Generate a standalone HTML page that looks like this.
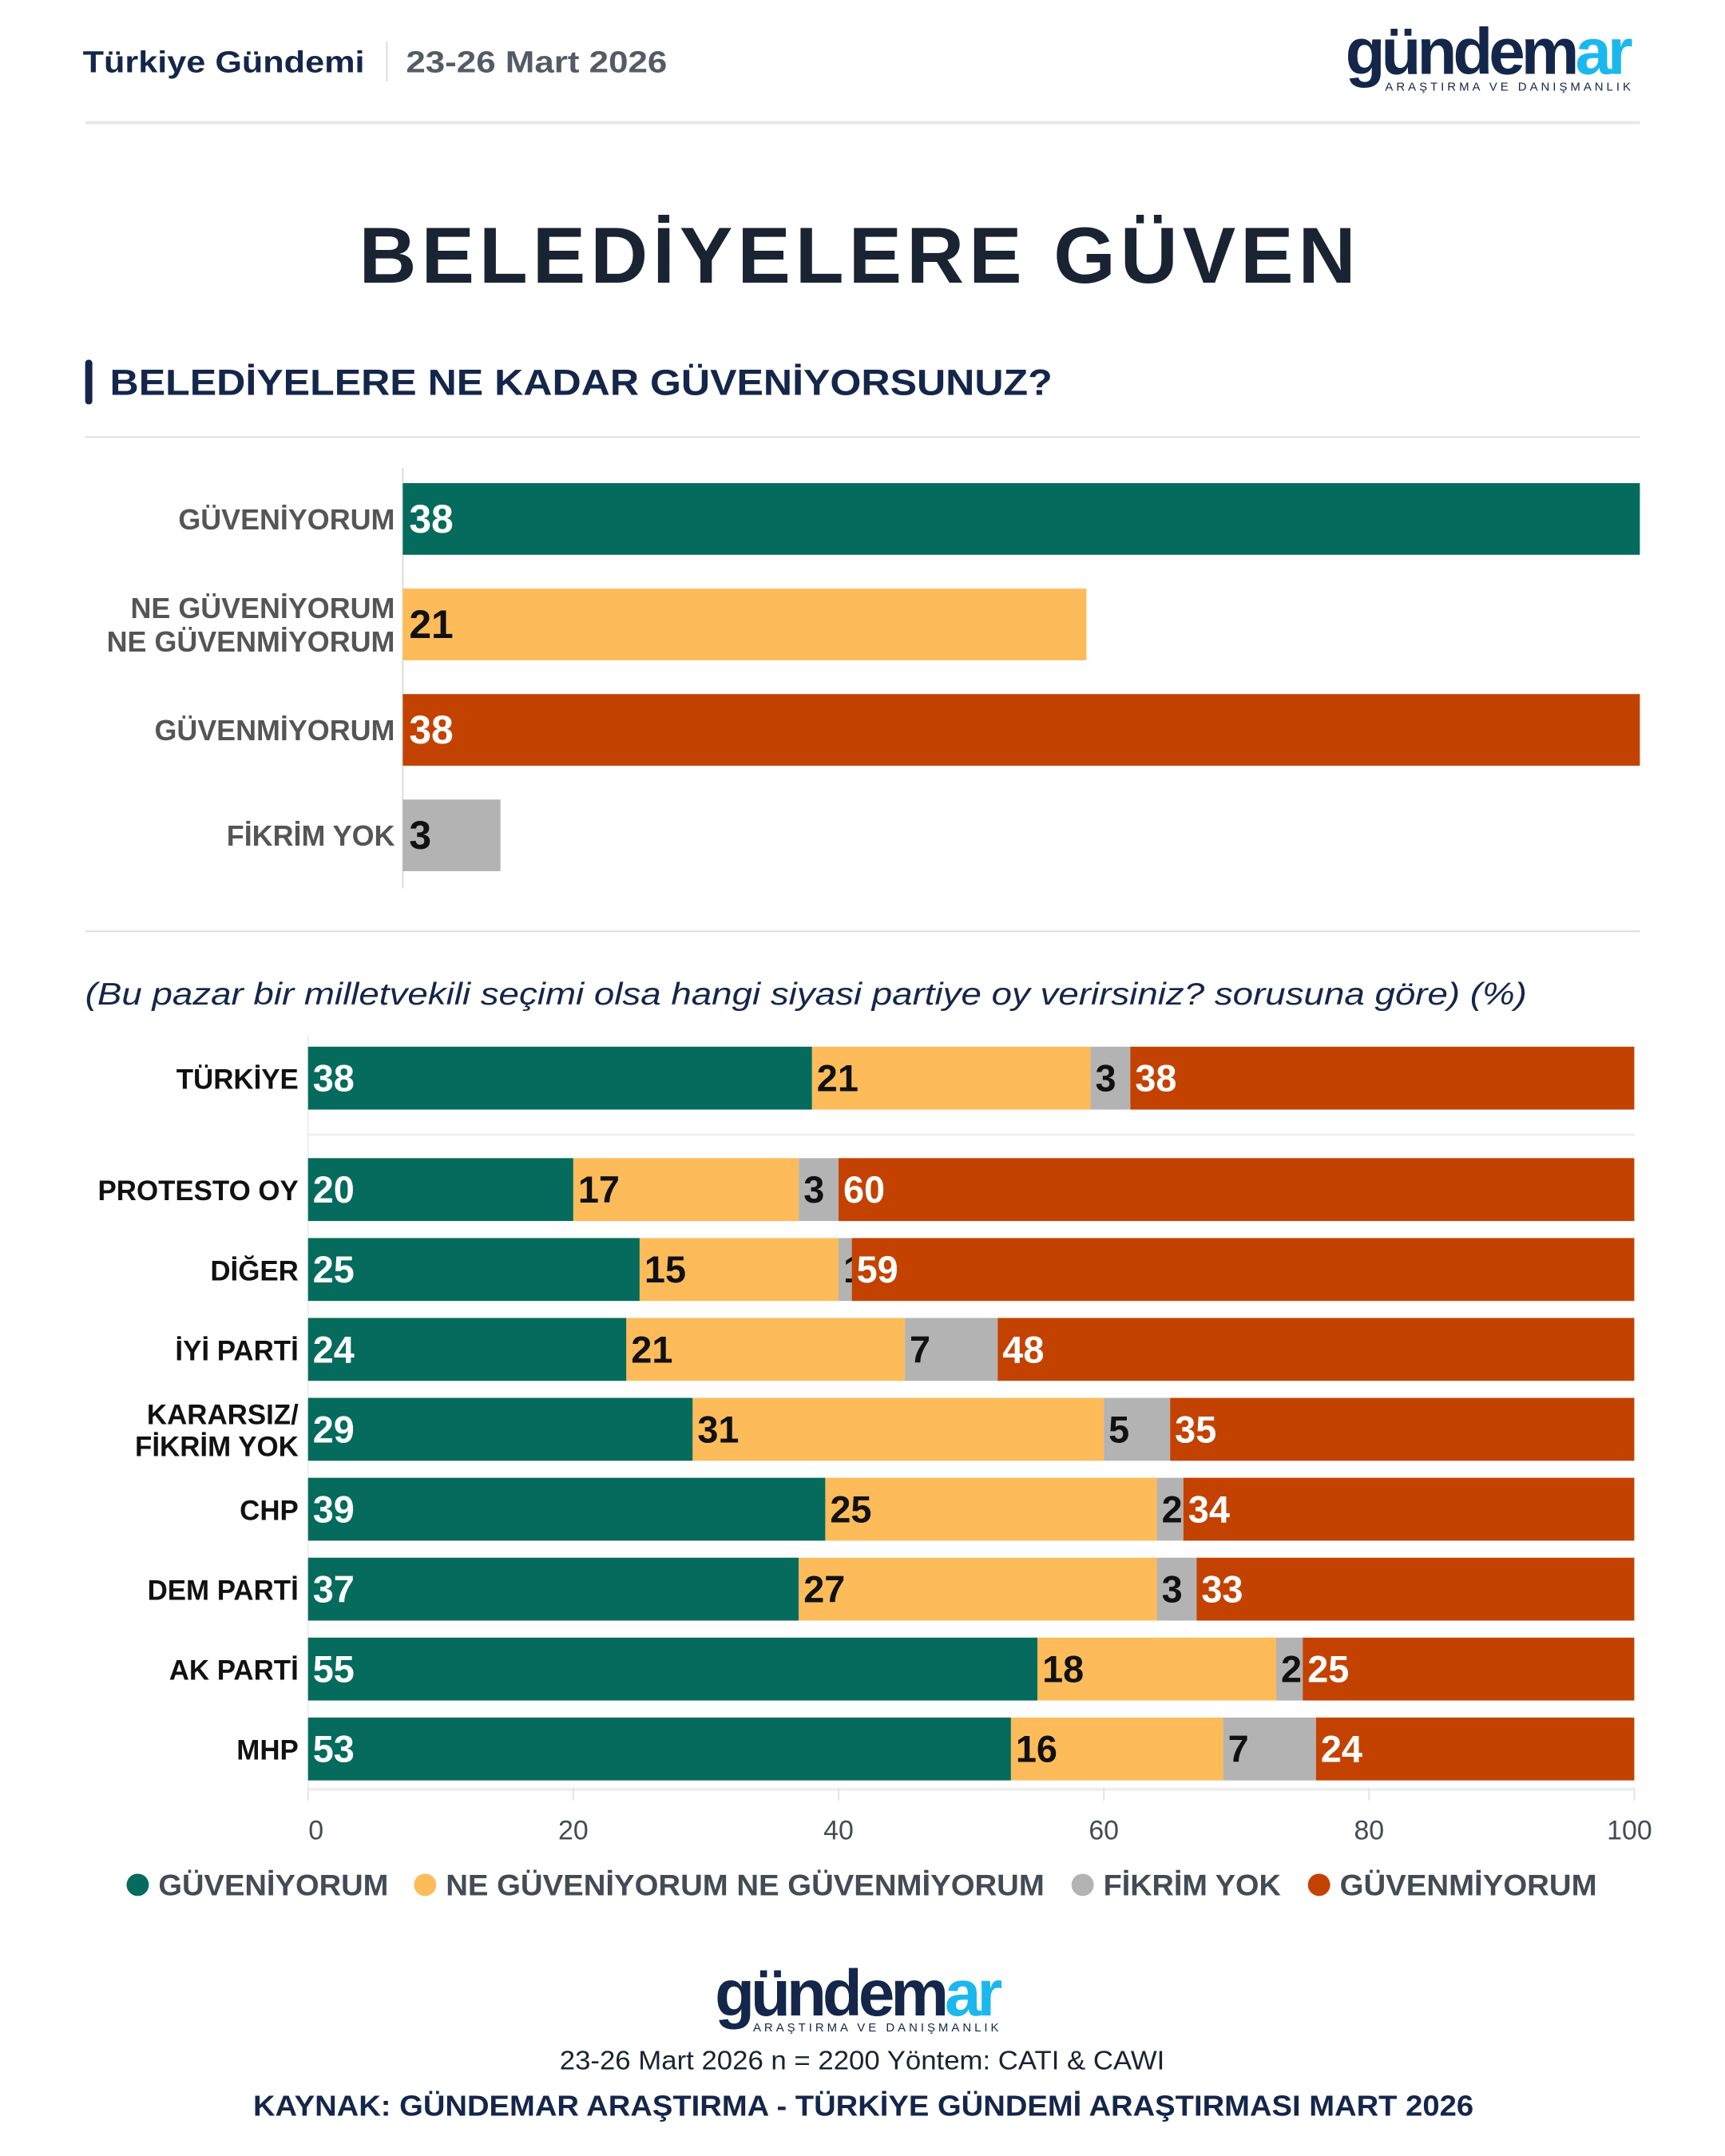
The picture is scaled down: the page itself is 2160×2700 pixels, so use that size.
<!DOCTYPE html>
<html><head><meta charset="utf-8">
<style>
html,body{margin:0;padding:0;background:#fff;}
svg{display:block;font-family:"Liberation Sans",sans-serif;}
</style></head>
<body>
<svg id="chart" width="2160" height="2700" viewBox="0 0 2160 2700" xmlns="http://www.w3.org/2000/svg">
<g transform="scale(0.9968)">
<g>
<text x="104" y="91" font-size="38" font-weight="bold" fill="#14264a" textLength="354" lengthAdjust="spacingAndGlyphs">Türkiye Gündemi</text>
<rect x="485" y="52" width="2" height="50" fill="#ddd"/>
<text x="510" y="91" font-size="38" font-weight="bold" fill="#555b66" textLength="328" lengthAdjust="spacingAndGlyphs">23-26 Mart 2026</text>
<g>
<text x="1690" y="93" font-size="82" font-weight="bold" letter-spacing="-5" fill="#14264a">gündem<tspan fill="#1ab8ee">ar</tspan></text>
<text x="1740" y="114" font-size="15" letter-spacing="4" fill="#14264a">ARAŞTIRMA VE DANIŞMANLIK</text>
</g>
<rect x="107" y="152" width="1953" height="4" fill="#e6e7ec"/>
</g>
<text x="1080" y="355" font-size="100" font-weight="bold" text-anchor="middle" letter-spacing="6" fill="#1a2332">BELEDİYELERE GÜVEN</text>
<rect x="107" y="452" width="9" height="56" rx="4" fill="#14264a"/>
<text x="138" y="496" font-size="46" font-weight="bold" fill="#14264a" textLength="1184" lengthAdjust="spacingAndGlyphs">BELEDİYELERE NE KADAR GÜVENİYORSUNUZ?</text>
<rect x="107" y="548" width="1953" height="2" fill="#ddd"/>
<g id="topChart"></g>
<rect x="107" y="1169" width="1953" height="2" fill="#ddd"/>
<text x="107" y="1262" font-size="39" font-style="italic" fill="#14264a" textLength="1811" lengthAdjust="spacingAndGlyphs">(Bu pazar bir milletvekili seçimi olsa hangi siyasi partiye oy verirsiniz? sorusuna göre) (%)</text>
<g id="bottomChart"></g>
<g id="legendGroup"></g>
<g>
<text x="898" y="2532" font-size="82" font-weight="bold" letter-spacing="-5" fill="#14264a">gündem<tspan fill="#1ab8ee">ar</tspan></text>
<text x="946" y="2552" font-size="15" letter-spacing="4" fill="#14264a">ARAŞTIRMA VE DANIŞMANLIK</text>
<text x="703" y="2600" font-size="33" fill="#1a2332" textLength="760" lengthAdjust="spacingAndGlyphs">23-26 Mart 2026 n = 2200 Yöntem: CATI &amp; CAWI</text>
<text x="318" y="2658" font-size="36" font-weight="bold" fill="#14264a" textLength="1533" lengthAdjust="spacingAndGlyphs">KAYNAK: GÜNDEMAR ARAŞTIRMA - TÜRKİYE GÜNDEMİ ARAŞTIRMASI MART 2026</text>
</g>
</g>
</svg>
<script>
const topCategories = [["GÜVENİYORUM"],["NE GÜVENİYORUM","NE GÜVENMİYORUM"],["GÜVENMİYORUM"],["FİKRİM YOK"]];
const topValues = [38,21,38,3];
const topColors = ["#046b5d","#fdbb5a","#c44200","#b3b3b3"];
const topTextColors = ["#fff","#111","#fff","#111"];

const rowLabels = [["TÜRKİYE"],["PROTESTO OY"],["DİĞER"],["İYİ PARTİ"],["KARARSIZ/","FİKRİM YOK"],["CHP"],["DEM PARTİ"],["AK PARTİ"],["MHP"]];
const guveniyorum = [38,20,25,24,29,39,37,55,53];
const neNe = [21,17,15,21,31,25,27,18,16];
const fikrimYok = [3,3,1,7,5,2,3,2,7];
const guvenmiyorum = [38,60,59,48,35,34,33,25,24];
const tickLabels = [0,20,40,60,80,100];
const seriesNames = ["GÜVENİYORUM","NE GÜVENİYORUM NE GÜVENMİYORUM","FİKRİM YOK","GÜVENMİYORUM"];

const NS="http://www.w3.org/2000/svg";
function mk(tag, attrs, parent, txt){const e=document.createElementNS(NS,tag);for(const k in attrs)e.setAttribute(k,attrs[k]);if(txt!==undefined)e.textContent=txt;parent.appendChild(e);return e;}

// top chart
const topG=document.getElementById('topChart');
const tx0=506, tx1=2060, tmax=Math.max(...topValues);
const txs=v=>tx0+(tx1-tx0)*v/tmax;
const tyTop=i=>607+i*132.5;
let ax=mk('rect',{x:tx0-1,y:588,width:2,height:528,fill:'#ddd'},topG);


topValues.forEach((v,i)=>{
  const y=tyTop(i);
  const r=mk('rect',{x:tx0,y:y,width:txs(v)-tx0,height:90,fill:topColors[i]},topG);
  
  
  const t=mk('text',{x:tx0+8,y:y+62,'font-size':50,'font-weight':'bold',fill:topTextColors[i]},topG,String(v));
  
  
  const lines=topCategories[i];
  lines.forEach((ln,j)=>{
    const yy=y+45+13+(j-(lines.length-1)/2)*42;
    const l=mk('text',{x:496,y:yy,'font-size':36,'font-weight':'bold','text-anchor':'end',fill:'#555'},topG,ln);
    
    
  });
});

// bottom chart
const bot=document.getElementById('bottomChart');
const bx0=387, bx1=2053;
const bxs=v=>bx0+(bx1-bx0)*v/100;
const rowY=i=> i===0?1315:1455+(i-1)*100.4;
const series=[guveniyorum,neNe,fikrimYok,guvenmiyorum];
const sColors=["#046b5d","#fdbb5a","#b3b3b3","#c44200"];
const sText=["#fff","#111","#111","#fff"];
let sep=mk('rect',{x:bx0,y:1424,width:bx1-bx0,height:3,fill:'#eee'},bot);


let bl=mk('rect',{x:bx0-1,y:1300,width:2,height:960,fill:'#eee'},bot);


let xl=mk('rect',{x:bx0,y:2246,width:bx1-bx0,height:4,fill:'#eee'},bot);


tickLabels.forEach(tv=>{
  const x=bxs(tv);
  const tk=mk('rect',{x:x-1,y:2246,width:2,height:16,fill:'#e3e3e3'},bot);
  
  
  const tl=mk('text',{x:tv===0?x+10:(tv===100?x-6:x),y:2311,'font-size':34,'text-anchor':'middle',fill:'#444b55'},bot,String(tv));
  
  
});
rowLabels.forEach((lab,i)=>{
  const y=rowY(i);
  let cum=0;
  series.forEach((s,k)=>{
    const v=s[i];
    const x=bxs(cum);
    const r=mk('rect',{x:x,y:y,width:bxs(cum+v)-x,height:79,fill:sColors[k]},bot);
    
    
    const t=mk('text',{x:x+6,y:y+56,'font-size':47,'font-weight':'bold',fill:sText[k]},bot,String(v));
    
    
    cum+=v;
  });
  lab.forEach((ln,j)=>{
    const yy=y+40+13+(j-(lab.length-1)/2)*40;
    const l=mk('text',{x:375,y:yy,'font-size':35,'font-weight':'bold','text-anchor':'end',fill:'#111'},bot,ln);
    
    
  });
});

// legend
const leg=document.getElementById('legendGroup');
const legX=[173,534,1360,1657];
const legW=[289,752,223,323];
seriesNames.forEach((n,k)=>{
  const c=mk('circle',{cx:legX[k],cy:2368,r:14,fill:sColors[k]},leg);
  
  
  const t=mk('text',{x:legX[k]+26,y:2381,'font-size':37,'font-weight':'bold',fill:'#444b55',textLength:legW[k],lengthAdjust:'spacingAndGlyphs'},leg,n);
  
  
});
</script>
</body></html>
